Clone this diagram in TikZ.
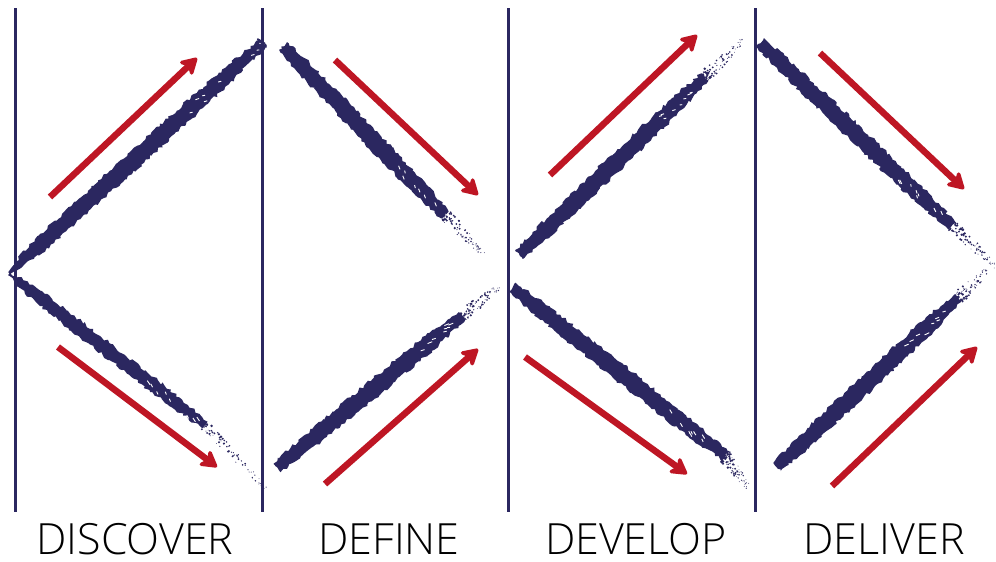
\documentclass[tikz,border=0pt]{standalone}
\usepackage{fontspec}
\setmainfont{Open Sans Light}
\usetikzlibrary{arrows.meta,decorations.pathmorphing,calc}
\definecolor{navy}{RGB}{43,39,96}
\definecolor{brred}{RGB}{190,22,36}
\tikzset{
  divider/.style={draw=navy, line width=3pt},
  flowarrow/.style={draw=brred, line width=6.5pt, -{Stealth[length=20pt,width=23pt,inset=6pt,round]}},
  phase/.style={font=\fontsize{43}{48}\selectfont, text=black, anchor=base, inner sep=0pt, text depth=0pt},
  brushfill/.style={fill=navy, decorate, decoration={random steps, segment length=3pt, amplitude=1.6pt}},
}
% x1 y1 (start)  x2 y2 (end of solid part)  x3 y3 (end of sparse part)  w0 wm seed
\newcommand\brushstroke[9]{%
  \pgfmathsetmacro\bdx{#3-#1}%
  \pgfmathsetmacro\bdy{#4-#2}%
  \pgfmathsetmacro\bL{veclen(\bdx,\bdy)}%
  \pgfmathsetmacro\bnx{-\bdy/\bL}%
  \pgfmathsetmacro\bny{\bdx/\bL}%
  \pgfmathsetmacro\bux{\bdx/\bL}%
  \pgfmathsetmacro\buy{\bdy/\bL}%
  \pgfmathsetseed{#9}%
  \fill[brushfill]
    ({#1+\bnx*#7},{#2+\bny*#7})
    -- ({#1+0.1*\bdx+\bnx*#8*0.85},{#2+0.1*\bdy+\bny*#8*0.85})
    -- ({#1+0.5*\bdx+\bnx*#8},{#2+0.5*\bdy+\bny*#8})
    -- ({#1+0.85*\bdx+\bnx*#8*0.9},{#2+0.85*\bdy+\bny*#8*0.9})
    -- ({#3+\bnx*#8*0.6},{#4+\bny*#8*0.6})
    -- ({#3-\bnx*#8*0.6},{#4-\bny*#8*0.6})
    -- ({#1+0.85*\bdx-\bnx*#8*0.9},{#2+0.85*\bdy-\bny*#8*0.9})
    -- ({#1+0.5*\bdx-\bnx*#8},{#2+0.5*\bdy-\bny*#8})
    -- ({#1+0.1*\bdx-\bnx*#8*0.85},{#2+0.1*\bdy-\bny*#8*0.85})
    -- ({#1-\bnx*#7},{#2-\bny*#7})
    -- cycle;
  \foreach \k in {1,...,8}{%
    \pgfmathsetmacro\bt{0.7+0.3*rnd}%
    \pgfmathsetmacro\boff{(2*rnd-1)*#8*0.5}%
    \pgfmathsetmacro\blen{2+3*rnd}%
    \draw[white, line width=0.9pt]
      ({#1+\bt*\bdx+\bnx*\boff},{#2+\bt*\bdy+\bny*\boff})
      -- ++({\bux*\blen+\bnx*1.5},{\buy*\blen+\bny*1.5});
  }%
  \foreach \k in {1,...,80}{%
    \pgfmathsetmacro\bt{rnd^1.5}%
    \pgfmathsetmacro\boff{(2*rnd-1)*#8*0.8*(1-0.6*\bt)}%
    \pgfmathsetmacro\brad{0.35+1.1*rnd*(1-0.7*\bt)}%
    \fill[navy] ({#3+\bt*(#5-#3)+\bnx*\boff},{#4+\bt*(#6-#4)+\bny*\boff}) circle[radius=\brad pt];
  }%
}
\begin{document}
\begin{tikzpicture}[x=1pt,y=-1pt]
  \useasboundingbox[fill=white] (0,0) rectangle (996,562);
  % dividers
  \coordinate (d1t) at (15,8);   \coordinate (d1b) at (15,512);
  \coordinate (d2t) at (262,8);  \coordinate (d2b) at (262,512);
  \coordinate (d3t) at (508,8);  \coordinate (d3b) at (508,512);
  \coordinate (d4t) at (755,8);  \coordinate (d4b) at (755,512);
  \draw[divider] (d1t) -- (d1b);
  \draw[divider] (d2t) -- (d2b);
  \draw[divider] (d3t) -- (d3b);
  \draw[divider] (d4t) -- (d4b);
  % brush strokes
  \brushstroke{9}{273}{262}{44}{264}{42}{1.5}{8.5}{11}
  \brushstroke{9}{274}{205}{425}{268}{490}{1.5}{7}{12}
  \brushstroke{283}{46}{445}{215}{484}{254}{5.5}{8.5}{13}
  \brushstroke{277}{468}{462}{316}{500}{286}{5.5}{8.5}{14}
  \brushstroke{519}{255}{705}{77}{743}{40}{5.5}{8.5}{15}
  \brushstroke{512}{287}{725}{456}{750}{490}{5.5}{8.5}{16}
  \brushstroke{760}{42}{952}{226}{997}{267}{5.5}{8.5}{17}
  \brushstroke{777}{467}{958}{298}{988}{270}{5.5}{8.5}{18}
  % arrows
  \coordinate (a1s) at (50,197);  \coordinate (a1e) at (197,58);
  \coordinate (a2s) at (58,347);  \coordinate (a2e) at (217,467);
  \coordinate (a3s) at (335,60);  \coordinate (a3e) at (478,195);
  \coordinate (a4s) at (325,484); \coordinate (a4e) at (478,349);
  \coordinate (a5s) at (550,175); \coordinate (a5e) at (697,35);
  \coordinate (a6s) at (525,357); \coordinate (a6e) at (687,474);
  \coordinate (a7s) at (820,53);  \coordinate (a7e) at (964,189);
  \coordinate (a8s) at (832,486); \coordinate (a8e) at (977,347);
  \draw[flowarrow] (a1s) -- (a1e);
  \draw[flowarrow] (a2s) -- (a2e);
  \draw[flowarrow] (a3s) -- (a3e);
  \draw[flowarrow] (a4s) -- (a4e);
  \draw[flowarrow] (a5s) -- (a5e);
  \draw[flowarrow] (a6s) -- (a6e);
  \draw[flowarrow] (a7s) -- (a7e);
  \draw[flowarrow] (a8s) -- (a8e);
  % labels
  \node[phase] (discover) at (135,554) {DISCOVER};
  \node[phase] (define)   at (389,554) {DEFINE};
  \node[phase] (develop)  at (636,554) {DEVELOP};
  \node[phase] (deliver)  at (884,554) {DELIVER};
\end{tikzpicture}
\end{document}
